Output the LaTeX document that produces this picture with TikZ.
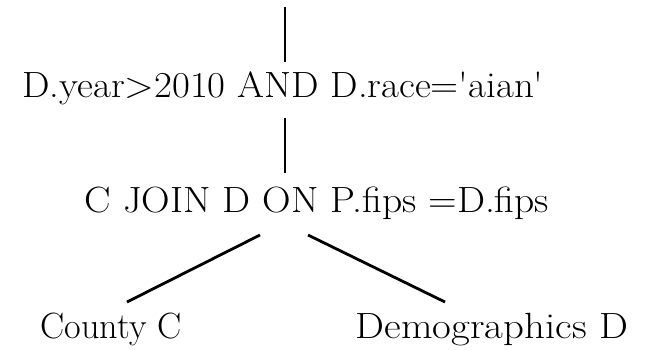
\documentclass[tikz,border=0pt]{standalone}
\usepackage{fontspec}
\usetikzlibrary{calc}
\newcommand\xstretch[2]{\scalebox{#1}[1]{#2}}
\tikzset{
  lbl/.style={inner sep=0pt, anchor=base, font=\fontsize{36.5}{42}\selectfont},
  edge/.style={line width=2.8pt, black}
}
\begin{document}
\begin{tikzpicture}[x=1pt,y=-1pt]
\useasboundingbox (0,0) rectangle (652,349);
\coordinate (top) at (285,7);
\node[lbl] (t1) at (283,97) {\xstretch{1.065}{D.year>2010 AND D.race=\textquotesingle aian\textquotesingle}};
\node[lbl] (t2) at (317,212) {\xstretch{1.085}{C JOIN D ON P.fips =D.fips}};
\node[lbl] (c) at (111,338) {\xstretch{0.99}{County C}};
\node[lbl] (d) at (492,338) {\xstretch{1.12}{Demographics D}};
\draw[edge] (top) -- ($(t1.base)+(2,-35)$);
\draw[edge] ($(t1.base)+(2,21)$) -- ($(t2.base)+(-32,-39)$);
\draw[edge] ($(t2.base)+(-57,23)$) -- ($(c.base)+(16,-36)$);
\draw[edge] ($(t2.base)+(-9,23)$) -- ($(d.base)+(-47,-36)$);
\end{tikzpicture}
\end{document}
